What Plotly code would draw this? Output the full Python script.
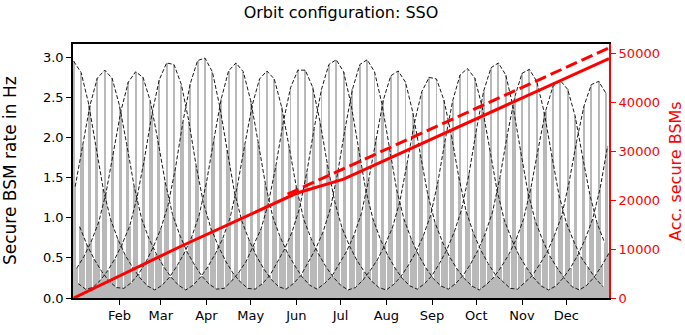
import plotly.graph_objects as go

# ---------------- data ----------------
month_labels = ["Feb", "Mar", "Apr", "May", "Jun", "Jul", "Aug", "Sep", "Oct", "Nov", "Dec"]
month_start_day = [31, 59, 90, 120, 151, 181, 212, 243, 273, 304, 334]

# daily secure BSM rate (Hz); each dashed curve joins every 5th day
curve_a = [2.95, 2.81, 2.43, 1.89, 1.36, 0.98, 0.73, 0.53, 0.38, 0.25,
           0.15, 0.10, 0.16, 0.26, 0.40, 0.56, 0.76, 1.03, 1.44, 1.97,
           2.48, 2.83, 2.93, 2.82, 2.46, 1.95, 1.42, 1.01, 0.76, 0.56,
           0.40, 0.26, 0.16, 0.11, 0.18, 0.27, 0.42, 0.58, 0.78, 1.05,
           1.47, 1.99, 2.47, 2.77, 2.83, 2.69, 2.31, 1.80, 1.30, 0.94,
           0.70, 0.51, 0.36, 0.24, 0.15, 0.10, 0.17, 0.26, 0.39, 0.54,
           0.73, 0.98, 1.37, 1.86, 2.33, 2.64, 2.71, 2.60, 2.27, 1.77,
           1.29, 0.93, 0.69]
curve_b = [1.39, 1.91, 2.40, 2.74, 2.84, 2.74, 2.40, 1.91, 1.39, 0.99,
           0.74, 0.55, 0.39, 0.26, 0.16, 0.10, 0.16, 0.26, 0.39, 0.55,
           0.74, 1.00, 1.40, 1.91, 2.40, 2.73, 2.83, 2.73, 2.38, 1.89,
           1.38, 0.98, 0.74, 0.55, 0.39, 0.26, 0.16, 0.10, 0.13, 0.22,
           0.34, 0.48, 0.66, 0.87, 1.19, 1.67, 2.18, 2.57, 2.75, 2.73,
           2.47, 2.04, 1.52, 1.09, 0.81, 0.60, 0.43, 0.29, 0.20, 0.12,
           0.11, 0.19, 0.28, 0.42, 0.57, 0.78, 1.03, 1.45, 1.95, 2.39,
           2.66, 2.70, 2.55]
curve_c = [0.37, 0.52, 0.71, 0.95, 1.32, 1.82, 2.33, 2.69, 2.82, 2.75,
           2.45, 1.97, 1.45, 1.04, 0.78, 0.57, 0.41, 0.27, 0.17, 0.11,
           0.12, 0.21, 0.32, 0.46, 0.65, 0.86, 1.18, 1.64, 2.18, 2.62,
           2.84, 2.84, 2.63, 2.20, 1.67, 1.20, 0.87, 0.65, 0.47, 0.33,
           0.21, 0.13, 0.10, 0.17, 0.27, 0.41, 0.57, 0.77, 1.03, 1.45,
           1.98, 2.46, 2.78, 2.86, 2.74, 2.38, 1.87, 1.35, 0.97, 0.73,
           0.53, 0.38, 0.25, 0.15, 0.10, 0.15, 0.25, 0.38, 0.54, 0.74,
           0.99, 1.37, 1.89]
curve_d = [0.18, 0.11, 0.13, 0.22, 0.34, 0.49, 0.68, 0.90, 1.26, 1.74,
           2.29, 2.72, 2.93, 2.91, 2.66, 2.21, 1.65, 1.18, 0.87, 0.65,
           0.46, 0.31, 0.20, 0.12, 0.11, 0.18, 0.28, 0.44, 0.61, 0.82,
           1.11, 1.56, 2.11, 2.60, 2.91, 2.97, 2.82, 2.42, 1.88, 1.35,
           0.98, 0.73, 0.53, 0.37, 0.24, 0.15, 0.11, 0.18, 0.28, 0.43,
           0.60, 0.82, 1.10, 1.54, 2.09, 2.58, 2.87, 2.93, 2.78, 2.38,
           1.84, 1.32, 0.96, 0.72, 0.52, 0.37, 0.24, 0.14, 0.10, 0.16,
           0.26, 0.40, 0.56]
curve_e = [0.89, 0.66, 0.48, 0.33, 0.21, 0.13, 0.12, 0.19, 0.30, 0.45,
           0.64, 0.86, 1.16, 1.62, 2.19, 2.67, 2.96, 2.99, 2.82, 2.39,
           1.85, 1.32, 0.96, 0.72, 0.52, 0.36, 0.23, 0.14, 0.11, 0.18,
           0.28, 0.44, 0.61, 0.82, 1.11, 1.56, 2.11, 2.60, 2.91, 2.97,
           2.82, 2.42, 1.88, 1.35, 0.98, 0.73, 0.53, 0.37, 0.24, 0.15,
           0.11, 0.18, 0.28, 0.42, 0.59, 0.80, 1.07, 1.50, 2.03, 2.50,
           2.80, 2.85, 2.70, 2.32, 1.80, 1.29, 0.94, 0.71, 0.51, 0.37,
           0.24, 0.14]
curves = [curve_a, curve_b, curve_c, curve_d, curve_e]

# accumulated secure BSMs (right axis)
acc_days = [0, 72, 151, 183, 363]
acc_bsm = [0, 10500, 21450, 24350, 49050]
trend_days = [145, 363]
trend_bsm = [21250, 51230]

# ---------------- figure ----------------
FONT = "DejaVu Sans"
W, H = 685, 335
fig = go.Figure()

bar_x, bar_y = [], []
curve_days = []
for c, vals in enumerate(curves):
    days = list(range(c, c + 5 * len(vals), 5))
    curve_days.append(days)
    bar_x += days
    bar_y += vals

fig.add_trace(go.Bar(x=bar_x, y=bar_y, width=0.6,
                     marker=dict(color="#b9b9b9", line=dict(width=0)),
                     showlegend=False, hoverinfo="skip"))
for days, vals in zip(curve_days, curves):
    fig.add_trace(go.Scatter(x=days, y=vals, mode="lines",
                             line=dict(color="#1a1a1a", width=1, dash="4px,2px"),
                             showlegend=False))
fig.add_trace(go.Scatter(x=acc_days, y=acc_bsm, yaxis="y2", mode="lines",
                         line=dict(color="#ff0000", width=3), showlegend=False))
fig.add_trace(go.Scatter(x=trend_days, y=trend_bsm, yaxis="y2", mode="lines",
                         line=dict(color="#ff0000", width=3, dash="12px,5px"),
                         showlegend=False))

fig.update_layout(
    width=W, height=H,
    margin=dict(l=73, r=76, t=44, b=28, pad=0),
    paper_bgcolor="white", plot_bgcolor="white",
    font=dict(family=FONT, size=13, color="black"),
    bargap=0,
    title=dict(text="Orbit configuration: SSO", x=0.5, xref="paper",
               y=1 - 12 / H, yref="container", yanchor="middle",
               font=dict(family=FONT, size=16, color="black")),
    xaxis=dict(range=[-0.5, 363], tickmode="array", tickvals=month_start_day,
               ticktext=month_labels, ticks="outside", ticklen=5, tickwidth=1.2,
               tickcolor="black", showline=True, linecolor="black", linewidth=1.5,
               mirror=True, showgrid=False, zeroline=False,
               tickfont=dict(family=FONT, size=13, color="black")),
    yaxis=dict(range=[0, 3.166], tickmode="array",
               tickvals=[0, 0.5, 1.0, 1.5, 2.0, 2.5, 3.0], tickformat=".1f",
               ticks="outside", ticklen=5, tickwidth=1.2, tickcolor="black",
               showline=True, linecolor="black", linewidth=1.5,
               showgrid=False, zeroline=False,
               tickfont=dict(family=FONT, size=13, color="black")),
    yaxis2=dict(range=[0, 52020], overlaying="y", side="right", tickmode="array",
                tickvals=[0, 10000, 20000, 30000, 40000, 50000], tickformat="d",
                ticks="outside", ticklen=5, tickwidth=1.2, tickcolor="#ff0000",
                showline=True, linecolor="#ff0000", linewidth=2,
                showgrid=False, zeroline=False,
                tickfont=dict(family=FONT, size=13, color="#ff0000")),
    annotations=[
        dict(text="Secure BSM rate in Hz", xref="paper", yref="paper",
             x=(10 - 73) / 536, y=0.5, xanchor="center", yanchor="middle",
             textangle=-90, showarrow=False,
             font=dict(family=FONT, size=17, color="black")),
        dict(text="Acc. secure BSMs", xref="paper", yref="paper",
             x=(675 - 73) / 536, y=0.5, xanchor="center", yanchor="middle",
             textangle=-90, showarrow=False,
             font=dict(family=FONT, size=16, color="#ff0000")),
    ],
)

# the page's default 8 px body margin would shift and crop the figure
fig.write_html("out.html",
               config={"displayModeBar": False},
               post_script="document.body.style.margin='0';document.body.style.padding='0';")
